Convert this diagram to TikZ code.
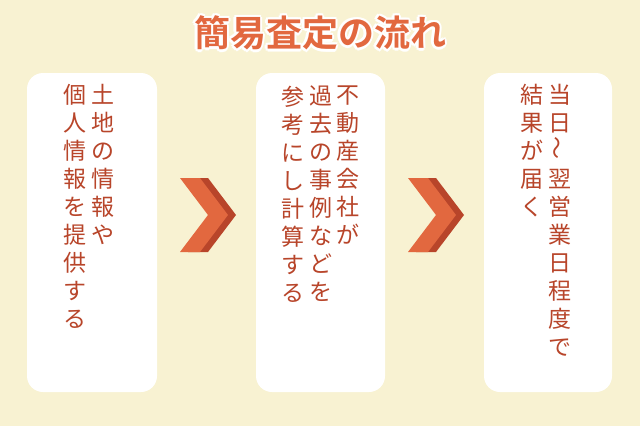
\documentclass[tikz,border=0pt]{standalone}
\usepackage{fontspec}
\setmainfont{Noto Sans CJK JP}
\newfontfamily\titlefont{Noto Sans CJK JP Bold}
\definecolor{cream}{HTML}{F8F2D2}
\definecolor{stepred}{HTML}{B8452A}
\definecolor{chevron}{HTML}{E2683F}
\definecolor{chevshade}{HTML}{B8452A}
\tikzset{
  x=1pt, y=-1pt,
  stepcard/.style={fill=white, draw=none, rounded corners=16pt},
  vcol/.style={anchor=north, align=center, inner sep=0pt, text=stepred,
    font=\fontsize{23}{28}\selectfont},
  titletext/.style={font=\titlefont\fontsize{36}{40}\selectfont}
}
\newcommand{\chev}[2]{%
  \fill[chevshade] (#1+8,#2) -- (#1+28,#2) -- (#1+56,#2+37) -- (#1+28,#2+74) -- (#1+8,#2+74) -- (#1+36,#2+37) -- cycle;
  \fill[chevron] (#1,#2) -- (#1+20,#2) -- (#1+48,#2+37) -- (#1+20,#2+74) -- (#1,#2+74) -- (#1+28,#2+37) -- cycle;
}
\begin{document}
\begin{tikzpicture}
\fill[cream] (0,0) rectangle (640,426);
\useasboundingbox (0,0) rectangle (640,426);
% title with white outline
\foreach \dx/\dy in {-2.5/0,2.5/0,0/-2.5,0/2.5,-1.8/-1.8,1.8/1.8,-1.8/1.8,1.8/-1.8}
  \node[titletext, text=white] at (320+\dx,33+\dy) {簡易査定の流れ};
\node[titletext, text=chevron] (title) at (320,33) {簡易査定の流れ};
% cards
\fill[stepcard] (27,73) rectangle (157,392);
\fill[stepcard] (256,73) rectangle (385,392);
\fill[stepcard] (484,73) rectangle (612,392);
% step 1
\node[vcol] (s1a) at (103,84) {土\\地\\の\\情\\報\\や};
\node[vcol] (s1b) at (75,84) {個\\人\\情\\報\\を\\提\\供\\す\\る};
% step 2
\node[vcol] (s2a) at (348,86) {不\\動\\産\\会\\社\\が};
\node[vcol] (s2b) at (321,86) {過\\去\\の\\事\\例\\な\\ど\\を};
\node[vcol] (s2c) at (293,86) {参\\考\\に\\し\\計\\算\\す\\る};
% step 3
\node[vcol] (s3a) at (560,84) {当\\日\\\rotatebox{90}{～}\\翌\\営\\業\\日\\程\\度\\で};
\node[vcol] (s3b) at (532,84) {結\\果\\が\\届\\く};
% arrows
\chev{180}{178}
\chev{408}{178}
\end{tikzpicture}
\end{document}
